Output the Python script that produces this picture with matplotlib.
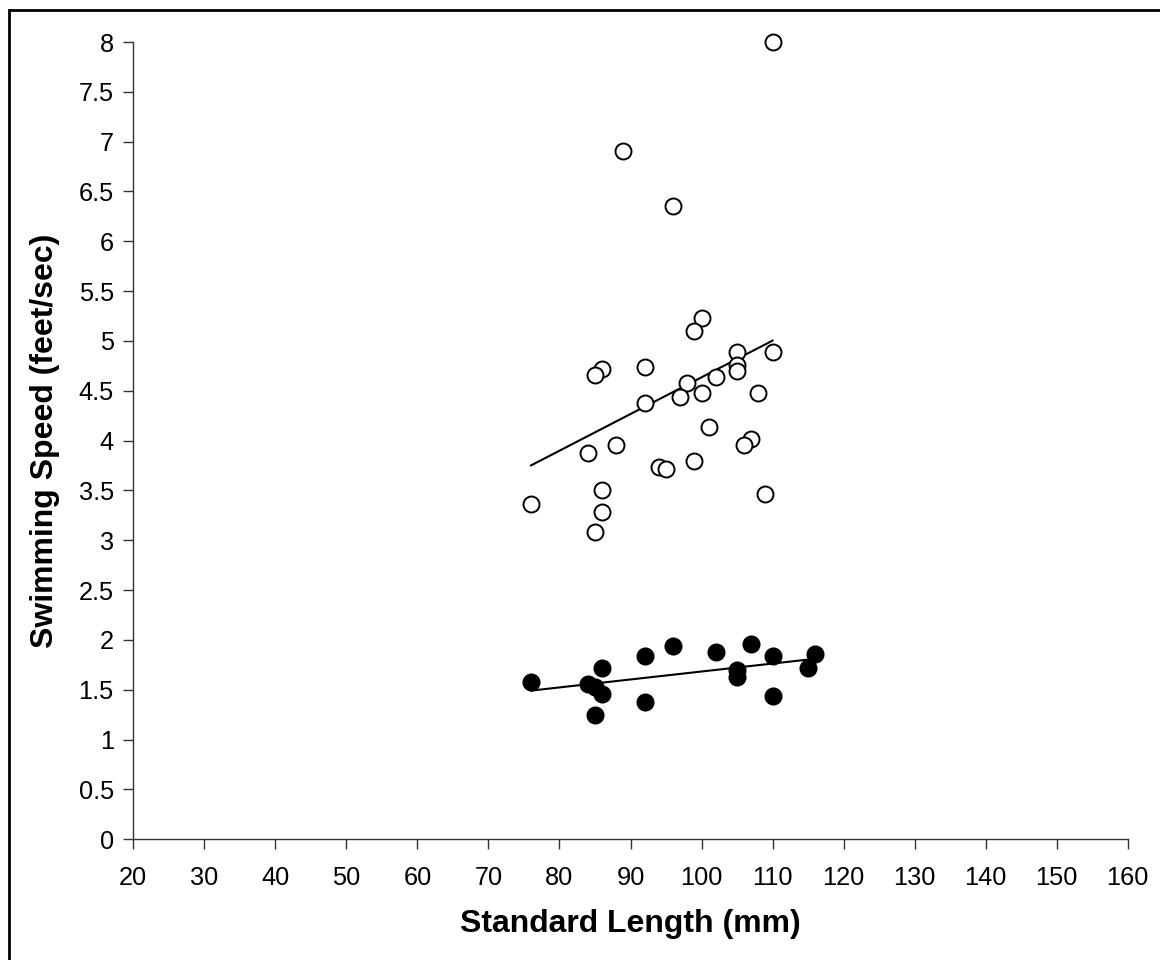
import numpy as np
import matplotlib
matplotlib.use('Agg')
import matplotlib.pyplot as plt
from matplotlib.patches import Rectangle

# open circles
open_len = [110, 89, 96, 100, 99, 105, 110, 105, 105, 86, 85, 92, 102, 98, 100, 97,
            108, 92, 101, 88, 84, 107, 106, 99, 94, 95, 86, 76, 109, 86, 85]
open_speed = [8.0, 6.91, 6.35, 5.23, 5.10, 4.885, 4.885, 4.76, 4.70, 4.72, 4.66, 4.74,
              4.64, 4.58, 4.48, 4.44, 4.48, 4.38, 4.14, 3.96, 3.88, 4.02, 3.96, 3.80,
              3.74, 3.72, 3.50, 3.36, 3.46, 3.28, 3.08]

# filled circles
fill_len = [76, 84, 85, 86, 86, 85, 92, 92, 96, 102, 107, 105, 105, 110, 110, 115, 116]
fill_speed = [1.578, 1.555, 1.53, 1.72, 1.455, 1.25, 1.835, 1.377, 1.935, 1.875,
              1.955, 1.70, 1.63, 1.835, 1.437, 1.715, 1.86]

plt.rcParams['font.family'] = ['Liberation Sans', 'DejaVu Sans']

fig = plt.figure(figsize=(11.6, 9.6), dpi=100)
ax = fig.add_axes([0.1149, 0.1257, 0.9722 - 0.1149, 0.95625 - 0.1257])


def trend(x, y):
    x = np.asarray(x, float)
    y = np.asarray(y, float)
    m, b = np.polyfit(x, y, 1)
    xs = np.array([x.min(), x.max()])
    ax.plot(xs, m * xs + b, color='black', lw=1.5, zorder=2)


trend(open_len, open_speed)
trend(fill_len, fill_speed)

ax.plot(open_len, open_speed, 'o', ms=11.5, mfc='white', mec='black', mew=1.4,
        ls='none', zorder=3, clip_on=False)
ax.plot(fill_len, fill_speed, 'o', ms=12, mfc='black', mec='black', mew=1,
        ls='none', zorder=3, clip_on=False)

ax.set_xlim(20, 160)
ax.set_ylim(0, 8)
ax.set_xticks(np.arange(20, 161, 10))
ax.set_yticks(np.arange(0, 8.01, 0.5))
ax.set_yticklabels(['%g' % v for v in np.arange(0, 8.01, 0.5)])

for s in ['top', 'right']:
    ax.spines[s].set_visible(False)
for s in ['left', 'bottom']:
    ax.spines[s].set_linewidth(1.0)
    ax.spines[s].set_color('#333333')

ax.tick_params(direction='out', length=7, width=1, color='#333333',
               labelsize=18.3, pad=7)
ax.tick_params(axis='x', pad=12)

ax.set_xlabel('Standard Length (mm)', fontsize=23, fontweight='bold')
ax.set_ylabel('Swimming Speed (feet/sec)', fontsize=23, fontweight='bold')
ax.xaxis.set_label_coords(0.5, -0.0875)
ax.yaxis.set_label_coords(-0.0737, 0.5)

# outer frame (cut off on right and bottom)
frame = Rectangle((9 / 1160, -0.05), 1.1, 1 - 10 / 960 + 0.05,
                  transform=fig.transFigure, fill=False, ec='black', lw=2,
                  clip_on=False)
fig.add_artist(frame)

fig.savefig('out.png', dpi=100)
